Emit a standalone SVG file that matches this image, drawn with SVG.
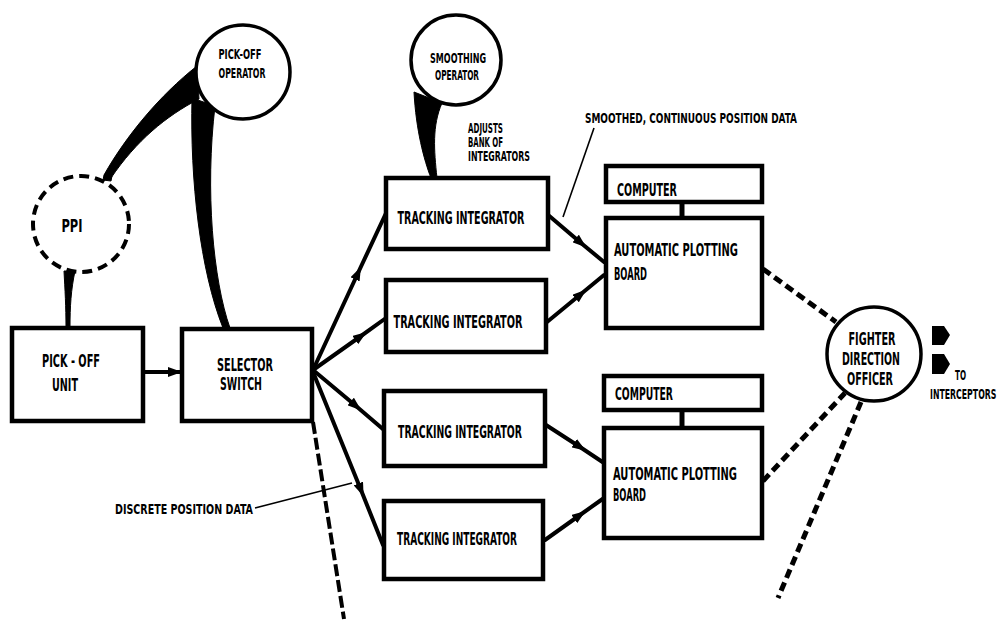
<svg xmlns="http://www.w3.org/2000/svg" width="1005" height="621" viewBox="0 0 1005 621">
<defs>
<style>
.box{fill:#fff;stroke:#000;stroke-width:4.5}
.circ{fill:#fff;stroke:#000;stroke-width:3.5}
.ln{fill:none;stroke:#000;stroke-width:4;stroke-linecap:round}
.dash{fill:none;stroke:#000;stroke-width:5;stroke-dasharray:9 5}
.lead{fill:none;stroke:#000;stroke-width:1.6}
.wedge{fill:#000;stroke:#000;stroke-width:1}
text{font-family:"Liberation Sans Narrow","DejaVu Sans Condensed","Liberation Sans",sans-serif;font-weight:bold;fill:#000;font-size:17px}
.sm{font-size:14px}
.c{text-anchor:middle}
</style>
<marker id="ah" viewBox="0 0 14 10" refX="7" refY="5" markerWidth="14" markerHeight="10" markerUnits="userSpaceOnUse" orient="auto"><path d="M0,0 L14,5 L0,10 Z" fill="#000"/></marker>
<marker id="ahe" viewBox="0 0 14 10" refX="13" refY="5" markerWidth="14" markerHeight="11" markerUnits="userSpaceOnUse" orient="auto"><path d="M0,0 L14,5 L0,10 Z" fill="#000"/></marker>
</defs>
<rect width="1005" height="621" fill="#fff"/>

<g id="connectors">
  <path class="wedge" d="M197,66 C160,95 126,136 104,175 L111,178 C136,141 166,116 199,99 Z"/>
  <path class="wedge" d="M104,175 L112,176 L111,181 L103,180 Z"/>
  <path class="wedge" d="M192,98 C190,180 200,270 223,328 L230,328 C213,280 205,190 215,106 Z"/>
  <path class="wedge" d="M64,271 L75,271 C71,290 70,306 70,328 L66,328 C66,306 65,290 64,271 Z"/>
  <path class="wedge" d="M414,92 C416,130 424,160 431,178 L437,178 C434,150 432,126 442,103 Z"/>
  <line class="ln" x1="145" y1="372" x2="181" y2="372" marker-end="url(#ahe)"/>
  <polyline class="ln" points="313,370 358,273 387,211" marker-mid="url(#ah)"/>
  <polyline class="ln" points="313,370 361,336 386,318" marker-mid="url(#ah)"/>
  <polyline class="ln" points="313,370 356,406 384,430" marker-mid="url(#ah)"/>
  <polyline class="ln" points="313,372 361,490 383,545" marker-mid="url(#ah)"/>
  <polyline class="ln" points="547,214 581,243 604,262" marker-mid="url(#ah)"/>
  <polyline class="ln" points="547,322 581,294 604,275" marker-mid="url(#ah)"/>
  <polyline class="ln" points="546,425 580,447 604,463" marker-mid="url(#ah)"/>
  <polyline class="ln" points="545,540 580,515 604,498" marker-mid="url(#ah)"/>
  <line x1="682" y1="202" x2="682" y2="218" stroke="#000" stroke-width="5"/>
  <line x1="682" y1="410" x2="682" y2="428" stroke="#000" stroke-width="5"/>
  <line class="dash" x1="313" y1="422" x2="344" y2="619" style="stroke-width:4;stroke-dasharray:12 4"/>
  <line class="dash" x1="763" y1="269" x2="836" y2="322"/>
  <line class="dash" x1="763" y1="481" x2="845" y2="393"/>
  <line class="dash" x1="861" y1="402" x2="778" y2="598"/>
  <line class="lead" x1="594" y1="128" x2="563" y2="217"/>
  <line class="lead" x1="255" y1="508" x2="352" y2="483"/>
  <path d="M932,326 L944,326 L950,335 L944,345 L932,345 Z" fill="#000"/>
  <path d="M932,354 L944,354 L950,364 L944,374 L932,374 Z" fill="#000"/>
</g>

<g id="pickoff-operator">
  <circle class="circ" cx="243" cy="72" r="47"/>
  <text class="sm c" x="240" y="59" textLength="43" lengthAdjust="spacingAndGlyphs">PICK-OFF</text>
  <text class="sm c" x="242" y="78" textLength="47" lengthAdjust="spacingAndGlyphs">OPERATOR</text>
</g>

<g id="ppi">
  <circle cx="81" cy="224" r="48" fill="none" stroke="#000" stroke-width="4" stroke-dasharray="10 6"/>
  <text class="c" x="72" y="232" textLength="21" lengthAdjust="spacingAndGlyphs">PPI</text>
</g>

<g id="pickoff-unit">
  <rect class="box" x="12" y="328" width="131" height="93"/>
  <text class="c" x="71" y="367" textLength="58" lengthAdjust="spacingAndGlyphs">PICK - OFF</text>
  <text class="c" x="65" y="391" textLength="26" lengthAdjust="spacingAndGlyphs">UNIT</text>
</g>

<g id="selector-switch">
  <rect class="box" x="182" y="329" width="130" height="92"/>
  <text class="c" x="245" y="371" textLength="56" lengthAdjust="spacingAndGlyphs">SELECTOR</text>
  <text class="c" x="241" y="390" textLength="42" lengthAdjust="spacingAndGlyphs">SWITCH</text>
</g>

<g id="smoothing-operator">
  <circle class="circ" cx="456" cy="60" r="45"/>
  <text class="sm c" x="458" y="63" textLength="56" lengthAdjust="spacingAndGlyphs">SMOOTHING</text>
  <text class="sm c" x="457" y="80" textLength="44" lengthAdjust="spacingAndGlyphs">OPERATOR</text>
</g>

<g id="adjusts-label">
  <text class="sm" x="468" y="133" textLength="35" lengthAdjust="spacingAndGlyphs">ADJUSTS</text>
  <text class="sm" x="468" y="147" textLength="35" lengthAdjust="spacingAndGlyphs">BANK OF</text>
  <text class="sm" x="468" y="161" textLength="62" lengthAdjust="spacingAndGlyphs">INTEGRATORS</text>
</g>

<g id="tracking-integrator-1">
  <rect class="box" x="386" y="178" width="162" height="71"/>
  <text class="c" x="461" y="224" textLength="127" lengthAdjust="spacingAndGlyphs">TRACKING  INTEGRATOR</text>
</g>
<g id="tracking-integrator-2">
  <rect class="box" x="386" y="280" width="160" height="72"/>
  <text class="c" x="458" y="328" textLength="129" lengthAdjust="spacingAndGlyphs">TRACKING  INTEGRATOR</text>
</g>
<g id="tracking-integrator-3">
  <rect class="box" x="384" y="391" width="161" height="75"/>
  <text class="c" x="460" y="438" textLength="124" lengthAdjust="spacingAndGlyphs">TRACKING INTEGRATOR</text>
</g>
<g id="tracking-integrator-4">
  <rect class="box" x="384" y="501" width="159" height="78"/>
  <text class="c" x="457" y="545" textLength="120" lengthAdjust="spacingAndGlyphs">TRACKING INTEGRATOR</text>
</g>

<g id="computer-1">
  <rect class="box" x="606" y="166" width="156" height="36"/>
  <text x="617" y="196" textLength="60" lengthAdjust="spacingAndGlyphs">COMPUTER</text>
</g>
<g id="plotting-board-1">
  <rect class="box" x="606" y="218" width="156" height="110"/>
  <text x="614" y="256" textLength="124" lengthAdjust="spacingAndGlyphs">AUTOMATIC  PLOTTING</text>
  <text x="614" y="280" textLength="33" lengthAdjust="spacingAndGlyphs">BOARD</text>
</g>
<g id="computer-2">
  <rect class="box" x="604" y="376" width="158" height="34"/>
  <text x="615" y="400" textLength="58" lengthAdjust="spacingAndGlyphs">COMPUTER</text>
</g>
<g id="plotting-board-2">
  <rect class="box" x="604" y="428" width="158" height="110"/>
  <text x="613" y="480" textLength="124" lengthAdjust="spacingAndGlyphs">AUTOMATIC PLOTTING</text>
  <text x="613" y="501" textLength="33" lengthAdjust="spacingAndGlyphs">BOARD</text>
</g>

<g id="fighter-direction-officer">
  <circle class="circ" cx="874" cy="354" r="47"/>
  <text class="c" x="872" y="345" textLength="47" lengthAdjust="spacingAndGlyphs">FIGHTER</text>
  <text class="c" x="871" y="365" textLength="58" lengthAdjust="spacingAndGlyphs">DIRECTION</text>
  <text class="c" x="870" y="385" textLength="46" lengthAdjust="spacingAndGlyphs">OFFICER</text>
</g>

<g id="labels">
  <text class="sm" x="585" y="123" textLength="212" lengthAdjust="spacingAndGlyphs">SMOOTHED, CONTINUOUS POSITION DATA</text>
  <text class="sm" x="115" y="514" textLength="138" lengthAdjust="spacingAndGlyphs">DISCRETE POSITION DATA</text>
  <text class="sm" x="955" y="380" textLength="11" lengthAdjust="spacingAndGlyphs">TO</text>
  <text transform="translate(930,399) scale(0.62,1)" style="font-size:14px">INTERCEPTORS</text>
</g>
</svg>
